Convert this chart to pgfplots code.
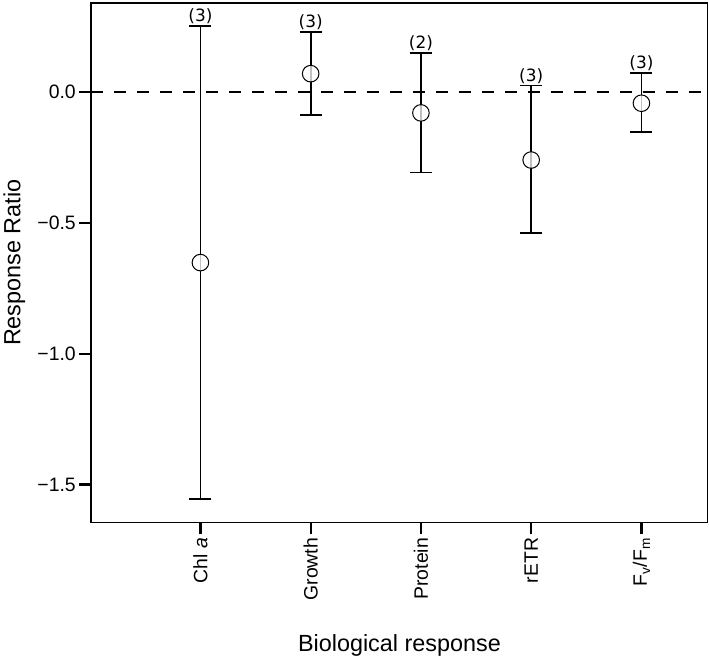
\documentclass[border=0pt]{standalone}
\usepackage{fontspec}
\setmainfont{Liberation Sans}
\newfontfamily\dejavu{DejaVu Sans}
\usepackage{pgfplots}
\usepackage{pgfplotstable}
\pgfplotsset{compat=1.18}

% mean, upper and lower CI half-widths, number of studies
\pgfplotstableread{
x y ep em n
0 -0.652 0.904 0.904 (3)
1 0.070 0.159 0.157 (3)
2 -0.080 0.229 0.227 (2)
3 -0.260 0.284 0.279 (3)
4 -0.043 0.116 0.110 (3)
}\resp

\begin{document}
\begin{tikzpicture}
\begin{axis}[
  scale only axis, width=617bp, height=520bp,
  xmin=-0.99, xmax=4.6, ymin=-1.645, ymax=0.34,
  clip=false,
  axis line style={line width=1.6bp},
  tick align=outside, tickpos=left,
  major tick length=12bp,
  every tick/.style={black, line width=2.2bp},
  xtick={0,1,2,3,4},
  xticklabels={Chl \textit{a}, Growth, Protein, rETR, F\textsubscript{v}/F\textsubscript{m}},
  xticklabel style={rotate=90, anchor=east, font=\fontsize{19.5}{22}\selectfont},
  ytick={-1.5,-1,-0.5,0},
  yticklabels={−1.5,−1.0,−0.5,0.0},
  yticklabel style={font=\fontsize{19.5}{22}\selectfont},
  xlabel={Biological response},
  ylabel={Response Ratio},
  label style={font=\fontsize{23.5}{26}\selectfont},
  xlabel style={at={(axis description cs:0.5,-0.237)}, anchor=center},
  ylabel style={at={(axis description cs:-0.125,0.5)}, anchor=center},
]
\addplot[black, line width=2.8bp, dash pattern=on 12bp off 11bp]
  coordinates {(-0.99,0) (4.6,0)};
\addplot[black, only marks, mark=*, mark size=8.3bp,
  mark options={draw=black, fill=white, fill opacity=0.75, line width=1bp},
  error bars/.cd, y dir=both, y explicit,
  error bar style={line width=1.8bp, black},
  error mark options={rotate=90, line width=1.6bp, mark size=11bp, black}]
  table[x=x, y=y, y error plus=ep, y error minus=em] {\resp};
\addplot[only marks, mark=none, nodes near coords, point meta=explicit symbolic,
  every node near coord/.style={anchor=south, inner sep=0pt, yshift=2bp,
    font=\dejavu\fontsize{17}{19}\selectfont}]
  table[x=x, y expr=\thisrow{y}+\thisrow{ep}, meta=n] {\resp};
\path (rel axis cs:-0.1475,-0.2654) rectangle (rel axis cs:1.0016,1.0058);
\end{axis}
\end{tikzpicture}
\end{document}
